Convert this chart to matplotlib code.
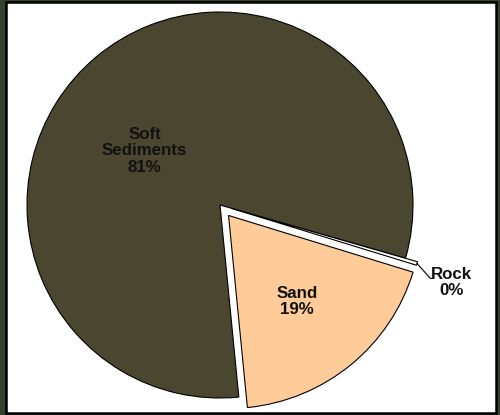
import matplotlib.pyplot as plt
from matplotlib.patches import Rectangle
import numpy as np

# ----------------------------------
# data
# ----------------------------------
categories = ["Soft\nSediments", "Sand", "Rock"]
shares = [81.0, 18.7, 0.3]
colors = ["#4b4630", "#ffcc99", "#ffffff"]
explode = [0.0, 0.07, 0.065]

# label centres in pie units (radius = 1)
label_pos = [(-0.39, 0.28), (0.40, -0.50), (1.20, -0.40)]

W, H = 500, 415
fig = plt.figure(figsize=(W / 100, H / 100), dpi=100)
fig.patch.set_facecolor("#34412f")

# white panel with black frame (behind the axes)
fig.patches.append(Rectangle((5.5 / W, 2 / H), 490.5 / W, 411 / H,
                             transform=fig.transFigure, facecolor="white",
                             edgecolor="black", linewidth=1.8, zorder=-1))

# pie centre (220, 205) px from top-left, radius 193 px
cx, cy, r = 220, H - 205, 193
span = 1.25
ax = fig.add_axes([(cx - span * r) / W, (cy - span * r) / H,
                   2 * span * r / W, 2 * span * r / H])
ax.axis("off")
ax.patch.set_alpha(0)

wedges, _ = ax.pie(shares, colors=colors, explode=explode, startangle=-16,
                   counterclock=True, radius=1,
                   wedgeprops=dict(edgecolor="black", linewidth=0.8))
ax.set_xlim(-span, span)
ax.set_ylim(-span, span)

font = dict(family="Liberation Sans", weight="bold", fontsize=12.2,
            color="#111111", ha="center", va="center", linespacing=1.1)

for name, val, (x, y) in zip(categories, shares, label_pos):
    ax.text(x, y, f"{name}\n{round(val)}%", **font)

# leader line for the tiny Rock slice
w = wedges[2]
mid = np.deg2rad((w.theta1 + w.theta2) / 2)
tip = (w.center[0] + np.cos(mid), w.center[1] + np.sin(mid))
lx, ly = label_pos[2]
ax.plot([tip[0], lx - 0.11, lx - 0.095], [tip[1], ly + 0.02, ly + 0.02],
        color="black", linewidth=0.8)

fig.savefig("out.png", dpi=100, facecolor=fig.get_facecolor())
